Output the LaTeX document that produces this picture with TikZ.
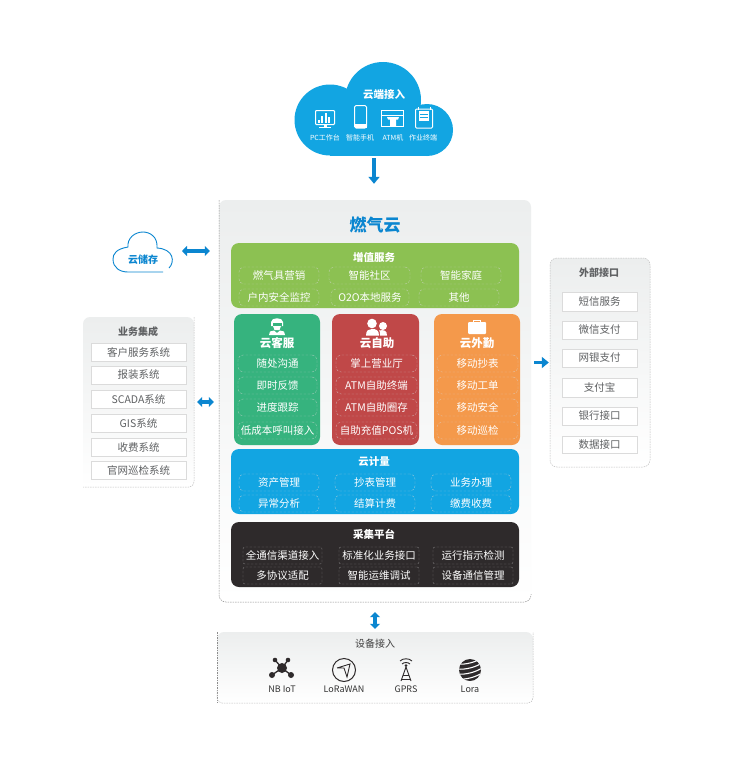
\documentclass[tikz,border=0pt]{standalone}
\usepackage{fontspec}
\setmainfont{Noto Sans CJK SC}
\usetikzlibrary{arrows.meta,calc}
\definecolor{cblue}{HTML}{12A5E2}
\definecolor{arrowblue}{HTML}{0B86D0}
\definecolor{cgreen}{HTML}{8CC152}
\definecolor{cteal}{HTML}{36B37E}
\definecolor{cred}{HTML}{C04848}
\definecolor{corange}{HTML}{F4994B}
\definecolor{cdark}{HTML}{2E2A2B}
\definecolor{panelgray}{HTML}{ECEEEE}
\definecolor{txtgray}{HTML}{5F6163}
\tikzset{
  x=1pt,y=-1pt,
  panel/.style={inner sep=0pt,rounded corners=7pt,top color=panelgray,bottom color=white,draw=none},
  band/.style={inner sep=0pt,rounded corners=8pt,draw=none},
  subbox/.style={inner sep=0pt,rounded corners=5pt,draw=white!85!black,draw opacity=.55,dash pattern=on 2.5pt off 1.5pt,line width=.45pt,text=white,font=\fontsize{10.5}{12}\selectfont},
  whitebox/.style={inner sep=0pt,fill=white,draw=black!14,line width=.8pt,text=txtgray,font=\fontsize{10.5}{12}\selectfont},
  bandtitle/.style={inner sep=0pt,text=white,font=\fontsize{10.5}{12}\selectfont\bfseries},
  coltitle/.style={inner sep=0pt,text=white,font=\fontsize{11.5}{13}\selectfont\bfseries},
  sidetitle/.style={inner sep=0pt,text=txtgray,font=\fontsize{10}{12}\selectfont\bfseries},
  devlabel/.style={inner sep=0pt,text=black!80,font=\fontsize{9}{10}\selectfont},
  iconlabel/.style={inner sep=0pt,text=white,font=\fontsize{7}{9}\selectfont},
  paneledge/.style={draw=black!45,line width=.5pt,dash pattern=on 1.5pt off 1pt},
  paneledgelight/.style={draw=black!25,line width=.5pt,dash pattern=on 1.5pt off 1pt},
  flow/.style={draw=arrowblue,line width=3.6pt,-{Triangle[length=7pt,width=11pt]}},
  biflow/.style={draw=arrowblue,line width=3.6pt,{Triangle[length=5pt,width=10pt]}-{Triangle[length=5pt,width=10pt]}},
  whiteicon/.style={draw=white,line width=1pt,fill=none},
  devicon/.style={draw=cdark,line width=1pt,fill=none},
}
% \bx{name}{style}{x1}{y1}{x2}{y2}{text}
\newcommand{\bx}[7]{%
  \pgfmathsetmacro{\bxw}{#5-#3}\pgfmathsetmacro{\bxh}{#6-#4}%
  \pgfmathsetmacro{\bxcx}{(#3+#5)/2}\pgfmathsetmacro{\bxcy}{(#4+#6)/2}%
  \node[#2,minimum width=\bxw pt,minimum height=\bxh pt] (#1) at (\bxcx,\bxcy) {#7};}
\begin{document}
\begin{tikzpicture}
\useasboundingbox (0,0) rectangle (730,760);
\fill[white] (0,0) rectangle (730,760);

% top cloud
\fill[cblue] (383,100) circle (38);
\fill[cblue] (330,120) circle (35.5);
\fill[cblue] (427,130) circle (26);
\fill[cblue] (330,118) rectangle (427,156);
\coordinate (cloudS) at (374,156);
\node[inner sep=0pt,text=white,font=\fontsize{10.5}{12}\selectfont\bfseries] (cloudT) at (384,95) {云端接入};
\node[iconlabel] (l1) at (325,138) {PC工作台};
\node[iconlabel] (l2) at (360,138) {智能手机};
\node[iconlabel] (l3) at (393,138) {ATM机};
\node[iconlabel] (l4) at (423,138) {作业终端};
% PC
\draw[whiteicon,rounded corners=.8pt] (315.5,110.5) rectangle (334.5,124.5);
\fill[white] (318,120) rectangle (320,122.5);
\fill[white] (321,116) rectangle (323,122.5);
\fill[white] (324.5,113) rectangle (326.5,122.5);
\fill[white] (328,117) rectangle (330,122.5);
\fill[white] (323.5,124.5) rectangle (326.5,127);
\fill[white] (319,127) rectangle (331,128);
% phone
\draw[whiteicon,rounded corners=1.5pt] (354.5,105.5) rectangle (366.5,128);
\fill[white] (354.5,124) rectangle (366.5,128);
% ATM
\draw[whiteicon] (381.5,110.5) rectangle (403.5,126);
\draw[white,line width=.8pt] (381.5,115) -- (403.5,115);
\fill[white] (387,117) -- (399,117) -- (398,119.5) -- (396,119.5) -- (396,126.5) -- (390,126.5) -- (390,119.5) -- (388,119.5) -- cycle;
% terminal
\draw[whiteicon,rounded corners=1pt] (415.5,109) rectangle (432.5,128);
\fill[white] (419,111) rectangle (429,121);
\fill[cblue] (420,114) rectangle (428,115);
\fill[cblue] (420,117) rectangle (428,118);
\draw[white,line width=.8pt] (418,107) -- (418,110) (430,107) -- (430,110);

% main panel
\bx{main}{panel}{219}{200}{531}{602}{}
\draw[paneledge,rounded corners=7pt] (219,200) -- (219,602) -- (531,602) -- (531,594);
\node[inner sep=0pt,text=arrowblue,font=\fontsize{17}{20}\selectfont\bfseries] (maint) at (375,225) {燃气云};

% value-added band
\bx{green}{band,fill=cgreen}{231}{243}{519}{308}{}
\node[bandtitle] (greent) at (374,257) {增值服务};
\bx{g1}{subbox}{239}{267}{319}{284}{燃气具营销}
\bx{g2}{subbox}{329}{267}{410}{284}{智能社区}
\bx{g3}{subbox}{421}{267}{501}{284}{智能家庭}
\bx{g4}{subbox}{239}{289}{319}{306}{户内安全监控}
\bx{g5}{subbox}{331}{289}{409}{306}{O2O本地服务}
\bx{g6}{subbox}{419}{289}{499}{306}{其他}

% three columns
\bx{colA}{band,fill=cteal}{234}{314}{320}{445}{}
\bx{colB}{band,fill=cred}{332}{314}{419}{445}{}
\bx{colC}{band,fill=corange}{434}{314}{520}{445}{}
\node[coltitle] (colAt) at (277,343) {云客服};
\node[coltitle] (colBt) at (377,343) {云自助};
\node[coltitle] (colCt) at (477,343) {云外勤};
\bx{a1}{subbox}{238}{355}{317}{372}{随处沟通}
\bx{a2}{subbox}{238}{377}{317}{394}{即时反馈}
\bx{a3}{subbox}{238}{399}{317}{416}{进度跟踪}
\bx{a4}{subbox}{238}{422}{317}{439}{低成本呼叫接入}
\bx{b1}{subbox}{336}{355}{417}{372}{掌上营业厅}
\bx{b2}{subbox}{336}{377}{417}{394}{ATM自助终端}
\bx{b3}{subbox}{336}{399}{417}{416}{ATM自助圈存}
\bx{b4}{subbox}{336}{422}{417}{439}{自助充值POS机}
\bx{c1}{subbox}{437}{355}{518}{372}{移动抄表}
\bx{c2}{subbox}{437}{377}{518}{394}{移动工单}
\bx{c3}{subbox}{437}{399}{518}{416}{移动安全}
\bx{c4}{subbox}{437}{422}{518}{439}{移动巡检}
% agent icon
\fill[white] (271,322) .. controls (271,317) and (283,317) .. (283,322) -- (283,326) -- (271,326) -- cycle;
\fill[cteal] (272.5,323) rectangle (281.5,325.5);
\fill[white] (273,326) -- (281,326) -- (279.5,330) -- (274.5,330) -- cycle;
\fill[white] (269,335) -- (270,331.5) -- (274,330.5) -- (277,333) -- (280,330.5) -- (284,331.5) -- (285,335) -- cycle;
% people icon
\fill[white] (372,323.5) circle (4.8);
\fill[white] (383,326) circle (4);
\fill[white] (366,335.5) .. controls (366,330) and (369,329) .. (372,329) .. controls (376,329) and (379,330) .. (379,335.5) -- cycle;
\fill[white] (380,335.5) .. controls (380,332) and (380,331) .. (379,330.5) .. controls (384,329.5) and (387,330.5) .. (387,335.5) -- cycle;
% briefcase icon
\fill[white,rounded corners=1pt] (468,322) rectangle (486,334);
\draw[white,line width=1pt] (473.5,322) -- (473.5,320) -- (480.5,320) -- (480.5,322);

% metering band
\bx{blue}{band,fill=cblue}{231}{449}{519}{514}{}
\node[bandtitle] (bluet) at (374,462) {云计量};
\bx{m1}{subbox}{239}{474}{319}{491}{资产管理}
\bx{m2}{subbox}{335}{474}{415}{491}{抄表管理}
\bx{m3}{subbox}{431}{474}{511}{491}{业务办理}
\bx{m4}{subbox}{239}{495}{319}{512}{异常分析}
\bx{m5}{subbox}{335}{495}{415}{512}{结算计费}
\bx{m6}{subbox}{431}{495}{511}{512}{缴费收费}

% acquisition band
\bx{dark}{band,fill=cdark}{231}{522}{519}{587}{}
\node[bandtitle] (darkt) at (374,534) {采集平台};
\bx{p1}{subbox,draw=white!70!black,rounded corners=2pt}{243}{547}{322}{564}{全通信渠道接入}
\bx{p2}{subbox,draw=white!70!black,rounded corners=2pt}{339}{547}{419}{564}{标准化业务接口}
\bx{p3}{subbox,draw=white!70!black,rounded corners=2pt}{433}{547}{513}{564}{运行指示检测}
\bx{p4}{subbox,draw=white!70!black,rounded corners=2pt}{243}{567}{322}{584}{多协议适配}
\bx{p5}{subbox,draw=white!70!black,rounded corners=2pt}{339}{567}{419}{584}{智能运维调试}
\bx{p6}{subbox,draw=white!70!black,rounded corners=2pt}{433}{567}{513}{584}{设备通信管理}

% device access
\bx{device}{panel}{217}{632}{533}{703}{}
\draw[paneledge,rounded corners=5pt] (217,632) -- (217,703);
\draw[paneledgelight,rounded corners=5pt] (217,690) -- (217,703) -- (533,703) -- (533,632);
\node[inner sep=0pt,text=black!75,font=\fontsize{10}{12}\selectfont] (devt) at (375,644) {设备接入};
\node[devlabel] (d1) at (282,689) {NB IoT};
\node[devlabel] (d2) at (344,689) {LoRaWAN};
\node[devlabel] (d3) at (406,689) {GPRS};
\node[devlabel] (d4) at (470,689) {Lora};
% NB IoT icon
\draw[cdark,line width=1.3pt] (275,660) -- (282,668) -- (288,660);
\draw[cdark,line width=1.3pt] (272,675) -- (282,668) -- (291,675);
\fill[cdark] (282,668) circle (5);
\fill[cdark] (275,660) circle (2.3);
\fill[cdark] (288,660) circle (2.3);
\fill[cdark] (272,675) circle (3);
\fill[cdark] (291,675) circle (3);
% LoRaWAN icon
\draw[devicon] (344,670) circle (11.5);
\draw[devicon,line width=.9pt] (337,668) -- (350,664) -- (347,677) -- (344,668) -- (337,668);
% GPRS icon
\draw[devicon,line width=.9pt] (406,667) -- (401,681);
\draw[devicon,line width=.9pt] (406,667) -- (411,681);
\draw[devicon,line width=.9pt] (403,675) -- (409,675);
\draw[devicon,line width=.9pt] (402,679) -- (410,679);
\draw[cdark,line width=.9pt] (402,664) .. controls (404,662) and (408,662) .. (410,664);
\draw[cdark,line width=.9pt] (400,661) .. controls (403,658) and (409,658) .. (412,661);
\fill[cdark] (406,665.5) circle (1.5);
% Lora icon
\begin{scope}
\clip (470,670) circle (11);
\fill[cdark] (458,659) rectangle (482,681);
\foreach \yy in {662,667,672,677}{
  \draw[white,line width=1.1pt] (458,\yy+2) .. controls (465,\yy+3) and (476,\yy) .. (482,\yy-4);
}
\end{scope}

% storage cloud
\draw[arrowblue,line width=.9pt] (169,268)
  .. controls (175,262) and (174,249) .. (157,248)
  .. controls (158,236) and (149,232) .. (143,232)
  .. controls (135,232) and (127,238) .. (128,247)
  .. controls (116,249) and (113,254) .. (113,259)
  .. controls (113,268) and (120,272) .. (128,272) -- (163,272);
\coordinate (storeE) at (174,251);
\node[inner sep=0pt,text=arrowblue,font=\fontsize{10}{12}\selectfont\bfseries] (storet) at (143,260) {云储存};

% business integration
\bx{left}{panel}{83}{317}{194}{487}{}
\draw[paneledgelight,rounded corners=5pt] (194,317) -- (194,487) -- (83,487);
\node[sidetitle] (leftt) at (138,332) {业务集成};
\bx{s1}{whitebox}{91}{343}{186}{361}{客户服务系统}
\bx{s2}{whitebox}{91}{366}{186}{384}{报装系统}
\bx{s3}{whitebox}{91}{390}{186}{408}{SCADA系统}
\bx{s4}{whitebox}{91}{414}{186}{432}{GIS系统}
\bx{s5}{whitebox}{91}{438}{186}{456}{收费系统}
\bx{s6}{whitebox}{91}{461}{186}{479}{官网巡检系统}

% external interfaces
\bx{ext}{panel}{550}{258}{650}{467}{}
\draw[paneledgelight,rounded corners=7pt] (550,258) rectangle (650,467);
\node[sidetitle] (extt) at (599,273) {外部接口};
\bx{e1}{whitebox}{562}{292}{637}{311}{短信服务}
\bx{e2}{whitebox}{562}{321}{637}{339}{微信支付}
\bx{e3}{whitebox}{562}{349}{637}{367}{网银支付}
\bx{e4}{whitebox}{562}{378}{637}{397}{支付宝}
\bx{e5}{whitebox}{562}{407}{637}{425}{银行接口}
\bx{e6}{whitebox}{562}{436}{637}{453}{数据接口}

% connectors
\draw[flow,shorten <=2pt,shorten >=16pt] (cloudS) -- (cloudS |- main.north);
\draw[biflow,shorten <=8pt,shorten >=9pt] (storeE) -- (storeE -| main.west);
\draw[biflow,shorten <=3pt,shorten >=5pt] (left.east) -- (left.east -| main.west);
\draw[flow,shorten <=3pt,shorten >=1pt] (ext.west -| main.east) -- (ext.west);
\draw[biflow,shorten <=10pt,shorten >=3pt] (main.south) -- (device.north);
\end{tikzpicture}
\end{document}
